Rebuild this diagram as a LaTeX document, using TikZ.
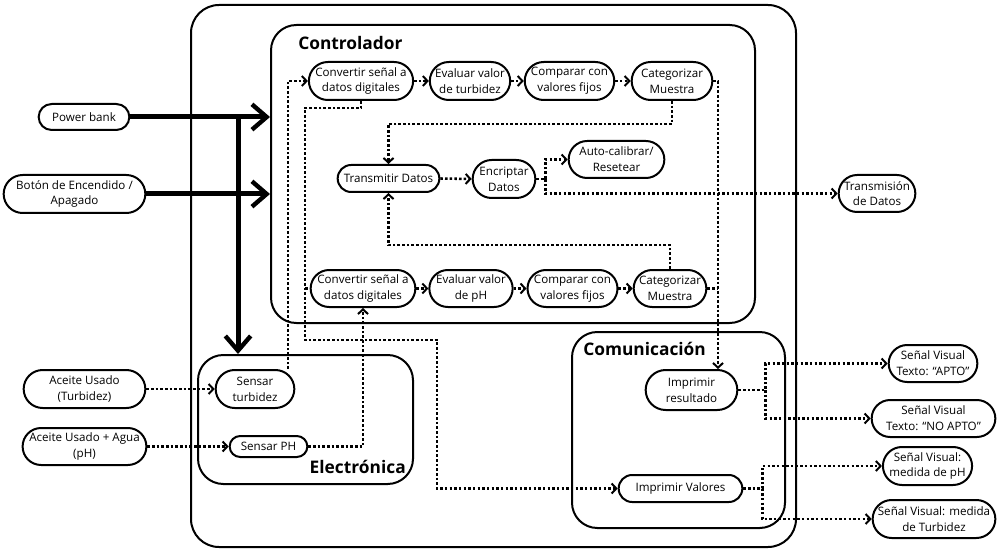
\documentclass[tikz,border=0pt]{standalone}
\usepackage{fontspec}
\setmainfont{Open Sans}
\usetikzlibrary{arrows.meta,shapes.misc}
\pgfdeclarelayer{bg}
\pgfsetlayers{bg,main}
\tikzset{
  nd/.style={draw, line width=1.5pt, fill=white, rounded rectangle, align=center, inner sep=0.5pt,
    font=\fontsize{8.7}{11.8}\selectfont},
  sz/.style 2 args={minimum width=#1*0.75pt, minimum height=#2*0.75pt},
  box/.style={draw, line width=1.5pt, rounded corners=19pt, inner sep=0pt},
  ttl/.style={font=\bfseries\fontsize{13}{15}\selectfont, inner sep=0pt},
  dl/.style={line width=1.9pt, dash pattern=on 1.9pt off 1.6pt},
  da/.style={dl, -{Straight Barb[length=3.5pt,width=7.5pt,line width=1.5pt]}},
  tl/.style={line width=3.75pt},
  ta/.style={tl, -{Straight Barb[length=11pt,width=19pt,line width=3.3pt]}}
}
\begin{document}
\begin{tikzpicture}[x=0.75pt,y=-0.75pt]
\useasboundingbox (0,0) rectangle (1002,552);
% boxes
\node[box, sz={605}{542}, rounded corners=21pt] (outer) at (493.5,276) {};
\node[box, sz={484}{298}] (ctrl) at (513,174) {};
\node[box, sz={215}{129}] (elec) at (305.5,419.5) {};
\node[box, sz={213}{196}] (com) at (678.5,430) {};
\node[ttl, anchor=west] (tctrl) at (298,43) {Controlador};
\node[ttl, anchor=east] (telec) at (406,467) {Electrónica};
\node[ttl, anchor=west] (tcom) at (583,349) {Comunicación};
% top row
\node[nd, sz={100}{38}] (conv1) at (361,81) {Convertir señal a\\datos digitales};
\node[nd, sz={80}{38}] (eval1) at (470,81) {Evaluar valor\\de turbidez};
\node[nd, sz={83}{38}] (comp1) at (569.5,81) {Comparar con\\valores fijos};
\node[nd, sz={82}{38}] (cat1) at (672,81) {Categorizar\\Muestra};
% middle
\node[nd, sz={103}{27}] (trans) at (388.5,178.5) {Transmitir Datos};
\node[nd, sz={64}{38}] (encr) at (504,179) {Encriptar\\Datos};
\node[nd, sz={97}{37}] (auto) at (616.5,159.5) {Auto-calibrar/\\Resetear};
\node[nd, sz={78}{37}] (tdat) at (877,193.5) {Transmisión\\de Datos};
% bottom row
\node[nd, sz={96}{37}] (conv2) at (363,288.5) {Convertir señal a\\datos digitales};
\node[nd, sz={80}{37}] (eval2) at (471,288.5) {Evaluar valor\\de pH};
\node[nd, sz={85}{37}] (comp2) at (572.5,288.5) {Comparar con\\valores fijos};
\node[nd, sz={74}{37}] (cat2) at (670,288.5) {Categorizar\\Muestra};
% left
\node[nd, sz={92}{26}] (pb) at (84,117) {Power bank};
\node[nd, sz={143}{38}] (boton) at (74.5,194) {Botón de Encendido /\\Apagado};
\node[nd, sz={123}{38}] (ac1) at (84.5,389) {Aceite Usado\\(Turbidez)};
\node[nd, sz={123}{37}] (ac2) at (84.5,446.5) {Aceite Usado + Agua\\(pH)};
% electronica
\node[nd, sz={80}{38}] (st) at (255,389) {Sensar\\turbidez};
\node[nd, sz={79}{21}] (sph) at (268.5,446.5) {Sensar PH};
% comunicacion
\node[nd, sz={93}{40}] (ir) at (691.5,390) {Imprimir\\resultado};
\node[nd, sz={125}{27}] (iv) at (680.5,488.5) {Imprimir Valores};
% right
\node[nd, sz={90}{37}] (apto) at (933,363.5) {Señal Visual\\Texto: “APTO”};
\node[nd, sz={125}{37}] (noapto) at (933.5,418.5) {Señal Visual\\Texto: “NO APTO”};
\node[nd, sz={89}{38}] (mph) at (927.5,466) {Señal Visual:\\medida de pH};
\node[nd, sz={116}{38}] (mturb) at (934,519) {Señal Visual: medida\\de Turbidez};
% thick power lines
\draw[ta] (pb.east) -- (pb.east -| ctrl.west);
\draw[ta] (boton.east) -- (boton.east -| ctrl.west);
\draw[ta] (pb.east -| 238,0) -- (elec.north -| 238,0);
\begin{pgfonlayer}{bg}
\draw[da] (conv1.east) -- (eval1.west);
\draw[da] (eval1.east) -- (comp1.west);
\draw[da] (comp1.east) -- (cat1.west);
\draw[da] (conv2.east) -- (eval2.west);
\draw[da] (eval2.east) -- (comp2.west);
\draw[da] (comp2.east) -- (cat2.west);
\draw[da] (st.north -| 288,0) |- (conv1.west);
\draw[da] (conv1.south) |- (305,108) |- (437,340) |- (iv.west);
\draw[dl] (305,288.5) -- (conv2.west);
\draw[da] (cat1.south) |- (trans.north |- 0,124) -- (trans.north);
\draw[da] (cat1.east) -| (ir.north -| 718,0);
\draw[dl] (cat2.east) -- (cat2.east -| 718,0);
\draw[da] (cat2.north) |- (trans.south |- 0,245) -- (trans.south);
\draw[da] (trans.east) -- (encr.west);
\draw[da] (encr.east) -- ++(9,0) |- (auto.west);
\draw[da] (encr.east) ++(9,0) |- (tdat.west);
\draw[da] (ac1.east) -- (st.west);
\draw[da] (ac2.east) -- (sph.west);
\draw[da] (sph.east) -| (conv2.south);
\draw[da] (ir.east) -- ++(27,0) |- (apto.west);
\draw[da] (ir.east) ++(27,0) |- (noapto.west);
\draw[da] (iv.east) -- ++(19,0) |- (mph.west);
\draw[da] (iv.east) ++(19,0) |- (mturb.west);
\end{pgfonlayer}
\end{tikzpicture}
\end{document}
